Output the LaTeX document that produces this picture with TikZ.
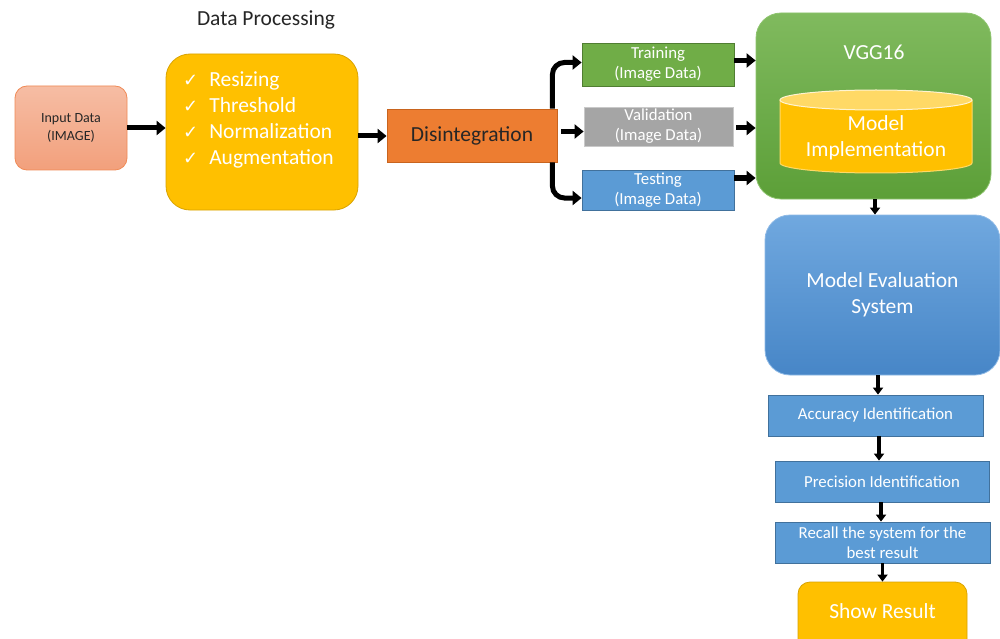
\documentclass[tikz,border=0pt]{standalone}
\usepackage{fontspec}
\setmainfont{Carlito}
\newfontfamily\symfont{DejaVu Sans}
\usetikzlibrary{arrows.meta}
\definecolor{salmonT}{HTML}{F6BDA4}
\definecolor{salmonB}{HTML}{F2A07C}
\definecolor{salmonD}{HTML}{F08A56}
\definecolor{gold}{HTML}{FFC000}
\definecolor{goldD}{HTML}{D9A300}
\definecolor{goldL}{HTML}{FFD966}
\definecolor{orangeF}{HTML}{ED7D31}
\definecolor{orangeD}{HTML}{C8641E}
\definecolor{greenF}{HTML}{70AD47}
\definecolor{greenD}{HTML}{507E32}
\definecolor{grayF}{HTML}{A5A5A5}
\definecolor{grayD}{HTML}{C9C9C9}
\definecolor{blueF}{HTML}{5B9BD5}
\definecolor{blueD}{HTML}{41719C}
\definecolor{vggT}{HTML}{80BA5E}
\definecolor{vggB}{HTML}{5C9F38}
\definecolor{vggD}{HTML}{8EC46E}
\definecolor{evT}{HTML}{70A8DF}
\definecolor{evB}{HTML}{4786C7}
\definecolor{evD}{HTML}{8FBAE6}
\definecolor{darktxt}{HTML}{262626}
\tikzset{
  box/.style={draw, line width=0.8pt, align=center, inner sep=0pt},
  arr/.style={line width=5pt, -{Triangle[length=9pt,width=14pt]}},
  varr/.style={line width=3.6pt, -{Triangle[length=7pt,width=10pt]}},
  wtxt/.style={text=white, align=center},
  big/.style={font=\fontsize{21.5}{26.5}\selectfont},
  small/.style={font=\fontsize{16.8}{20}\selectfont},
}
\begin{document}
\begin{tikzpicture}[x=1pt,y=-1pt]
\useasboundingbox (0,0) rectangle (1000,639);
\fill[white] (0,0) rectangle (1000,639);
\clip (0,0) rectangle (1000,639);

\node[font=\fontsize{21.5}{24}\selectfont, text=darktxt] (title) at (266,20) {Data Processing};

\node[box, rounded corners=12pt, top color=salmonT, bottom color=salmonB, draw=salmonD,
      minimum width=112pt, minimum height=84pt, text=darktxt,
      font=\fontsize{14}{18}\selectfont] (inp) at (71,128) {Input Data\\(IMAGE)};

\node[box, rounded corners=24pt, fill=gold, draw=goldD,
      minimum width=192pt, minimum height=156pt] (dp) at (262,132) {};
\node[anchor=north west, align=left, text=white, inner sep=0pt,
      font=\fontsize{21.5}{26}\selectfont] (dplist) at (183,72)
  {{\symfont\fontsize{18}{26}\selectfont ✓}\hspace{11pt}Resizing\\
   {\symfont\fontsize{18}{26}\selectfont ✓}\hspace{11pt}Threshold\\
   {\symfont\fontsize{18}{26}\selectfont ✓}\hspace{11pt}Normalization\\
   {\symfont\fontsize{18}{26}\selectfont ✓}\hspace{11pt}Augmentation};

\node[box, fill=orangeF, draw=orangeD, minimum width=170pt, minimum height=53pt,
      text=darktxt, big] (dis) at (472,135.5) {Disintegration};

\node[box, fill=greenF, draw=greenD, minimum width=152pt, minimum height=43pt,
      wtxt, small] (train) at (658,64.5) {Training\\(Image Data)};
\node[box, fill=grayF, draw=grayD, minimum width=149pt, minimum height=39pt,
      wtxt, small] (val) at (658.5,126.5) {Validation\\(Image Data)};
\node[box, fill=blueF, draw=blueD, minimum width=152pt, minimum height=40pt,
      wtxt, small] (test) at (658,190) {Testing\\(Image Data)};

\node[box, rounded corners=25pt, top color=vggT, bottom color=vggB, draw=vggD,
      minimum width=235pt, minimum height=186pt] (vgg) at (873.5,106) {};
\node[wtxt, big] (vggt) at (874,52) {VGG16};

% cylinder
\path[fill=gold, draw=goldL, line width=1pt] (780,100) -- (780,163)
  arc[start angle=180, end angle=360, x radius=96pt, y radius=10pt] -- (972,100);
\draw[fill=goldL, draw=white!70!goldL, line width=1pt] (876,100) ellipse [x radius=96pt, y radius=10pt];
\node[wtxt, big] (cyl) at (876,138) {Model\\Implementation};

\node[box, rounded corners=25pt, top color=evT, bottom color=evB, draw=evD,
      minimum width=235pt, minimum height=160pt, wtxt, big] (eval) at (882.5,295)
  {Model Evaluation\\System};

\node[box, fill=blueF, draw=blueD, minimum width=215pt, minimum height=41pt,
      wtxt, small] (acc) at (875.5,415.5) {Accuracy Identification};
\node[box, fill=blueF, draw=blueD, minimum width=214pt, minimum height=41pt,
      wtxt, small] (prec) at (882,481.5) {Precision Identification};
\node[box, fill=blueF, draw=blueD, minimum width=215pt, minimum height=41pt,
      wtxt, small] (rec) at (882.5,542.5) {Recall the system for the\\best result};
\node[box, rounded corners=12pt, fill=gold, draw=goldD, minimum width=169pt,
      minimum height=76pt] (show) at (882.5,620) {};
\node[wtxt, big] (showt) at (882.5,611) {Show Result};

% connectors
\draw[arr] (inp.east) -- (inp.east -| dp.west);
\draw[arr] ([yshift=-4pt]dp.east) -- ([yshift=-4pt]dp.east -| dis.west);
\draw[arr, rounded corners=12pt] ([xshift=-5pt]dis.north east) |- ([yshift=2pt]train.west);
\draw[arr, rounded corners=12pt] ([xshift=-5pt]dis.south east) |- ([yshift=-8pt]test.west);
\draw[arr] ([xshift=4pt,yshift=4pt]dis.east) -- ([yshift=4pt]dis.east -| val.west);
\draw[arr] ([yshift=4pt]train.east) -- ([yshift=4pt]train.east -| vgg.west);
\draw[arr] ([xshift=3pt,yshift=-1.5pt]val.east) -- ([yshift=-1.5pt]val.east -| vgg.west);
\draw[arr] ([yshift=12pt]test.east) -- ([yshift=12pt]test.east -| vgg.west);

\draw[varr] ([xshift=1.5pt]vgg.south) -- ([xshift=1.5pt]vgg.south |- eval.north);
\draw[varr] ([xshift=-4.5pt]eval.south) -- ([xshift=-4.5pt]eval.south |- acc.north);
\draw[varr] ([xshift=3.5pt]acc.south) -- ([xshift=3.5pt]acc.south |- prec.north);
\draw[varr] ([xshift=-1pt]prec.south) -- ([xshift=-1pt]prec.south |- rec.north);
\draw[varr] (rec.south) -- (rec.south |- show.north);
\end{tikzpicture}
\end{document}
